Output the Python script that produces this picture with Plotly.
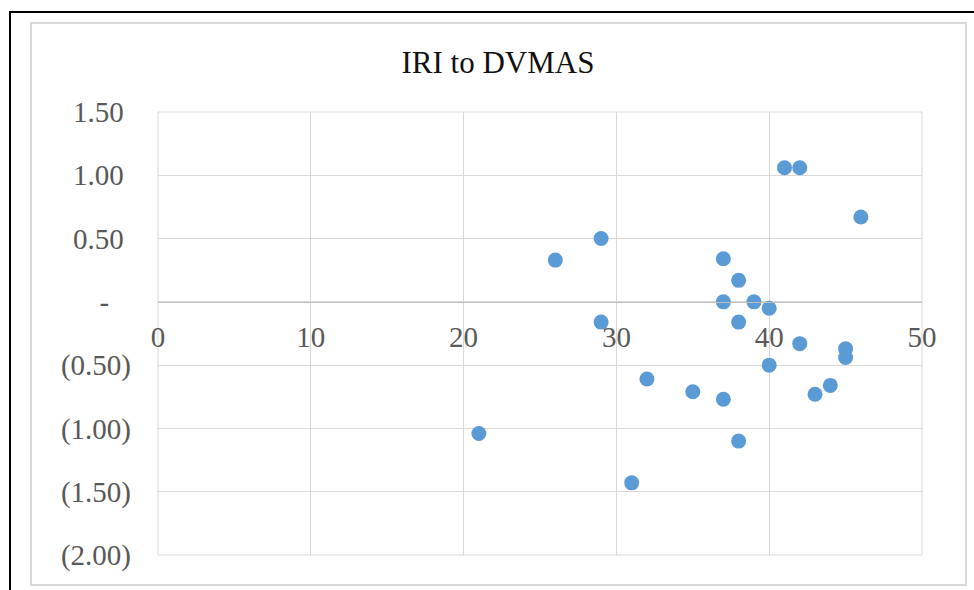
import plotly.graph_objects as go

# Data
iri = [21, 26, 29, 29, 31, 32, 35, 37, 37, 37, 38, 38, 38, 39, 40, 40, 41, 42, 42, 43, 44, 45, 45, 46]
dvmas = [-1.04, 0.33, 0.50, -0.16, -1.43, -0.61, -0.71, 0.34, 0.00, -0.77, 0.17, -0.16, -1.10,
         0.00, -0.05, -0.50, 1.06, 1.06, -0.33, -0.73, -0.66, -0.37, -0.44, 0.67]

x_ticks = [0, 10, 20, 30, 40, 50]
y_ticks = [-2.0, -1.5, -1.0, -0.5, 0.0, 0.5, 1.0, 1.5]
y_tick_labels = ["(2.00)", "(1.50)", "(1.00)", "(0.50)", "-\u2007\u2008", "0.50\u2008", "1.00\u2008", "1.50\u2008"]

title_text = "IRI to DVMAS"

W, H = 974, 590
L, R, T, B = 158, 922, 112, 555  # plot area in pixels

def px_x(p):
    return (p - L) / (R - L)

def px_y(p):
    return (B - p) / (B - T)

y_min, y_max = -2.0, 1.5
zero_pos = (0 - y_min) / (y_max - y_min)

font_family = "Liberation Serif, Times New Roman, serif"

fig = go.Figure()
fig.add_trace(go.Scatter(
    x=iri, y=dvmas, mode="markers",
    marker=dict(color="#5B9BD5", size=15, line=dict(width=0)),
    showlegend=False, hoverinfo="x+y",
))

fig.update_layout(
    width=W, height=H,
    margin=dict(l=L, r=W - R, t=T, b=H - B),
    paper_bgcolor="white", plot_bgcolor="white",
    font=dict(family=font_family, color="#595959", size=29),
    title=dict(text=title_text, x=498 / W, xanchor="center", xref="container",
               y=1 - 62 / H, yanchor="middle", yref="container",
               font=dict(family=font_family, size=31, color="#111111")),
    xaxis=dict(range=[0, 50], tickvals=x_ticks, showgrid=True, gridcolor="#D9D9D9", gridwidth=1,
               zeroline=False, showline=True, linecolor="#BFBFBF", linewidth=1,
               anchor="free", position=zero_pos, side="bottom", ticks="",
               ticklabelstandoff=9, tickfont=dict(size=29, color="#595959")),
    yaxis=dict(range=[y_min, y_max], tickvals=y_ticks, ticktext=y_tick_labels,
               showgrid=True, gridcolor="#D9D9D9", gridwidth=1, zeroline=False, showline=False,
               ticks="", ticklabelstandoff=26, tickfont=dict(size=29, color="#595959")),
    shapes=[
        # plot-area frame
        dict(type="rect", xref="paper", yref="paper", x0=0, x1=1, y0=0, y1=1,
             line=dict(color="#D9D9D9", width=1), layer="below"),
        # chart border
        dict(type="rect", xref="paper", yref="paper", x0=px_x(31), x1=px_x(966),
             y0=px_y(585), y1=px_y(23), line=dict(color="#D9D9D9", width=2)),
        # outer black frame
        dict(type="rect", xref="paper", yref="paper", x0=px_x(10), x1=px_x(990),
             y0=px_y(600), y1=px_y(12), line=dict(color="#000000", width=2)),
    ],
)

fig.write_html("out.html", config={"displayModeBar": False},
               post_script="document.body.style.margin='0';")
